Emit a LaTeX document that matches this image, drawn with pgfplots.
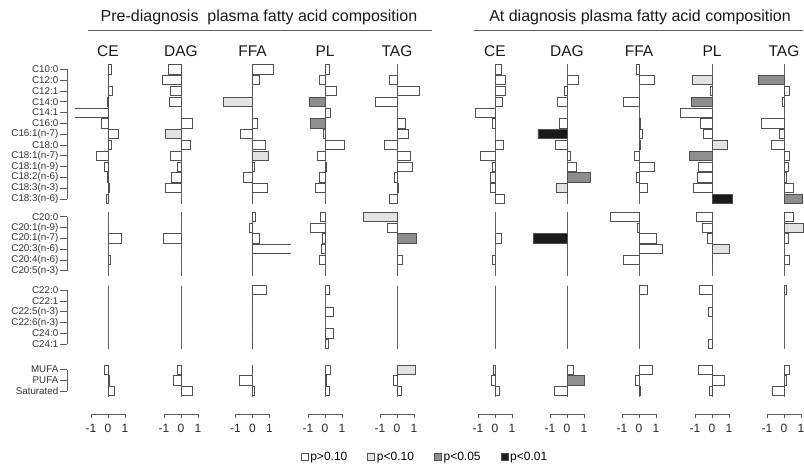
\documentclass[border=0pt]{standalone}
\usepackage{fontspec}
\setmainfont{Liberation Sans}
\usepackage{pgfplots}
\usepackage{pgfplotstable}
\pgfplotsset{compat=1.18}

\definecolor{cA}{HTML}{FFFFFF}
\definecolor{cB}{HTML}{E2E2E2}
\definecolor{cC}{HTML}{8E8E8E}
\definecolor{cD}{HTML}{1A1A1A}
\definecolor{edge}{HTML}{505050}
\definecolor{axisgray}{HTML}{5A5A5A}
\definecolor{zgray}{HTML}{707070}

% columns: pos, then value (v) and p-category (c: 0 p>0.10, 1 p<0.10, 2 p<0.05, 3 p<0.01)
% panels: 1 CE, 2 DAG, 3 FFA, 4 PL, 5 TAG (pre-diagnosis); 6 CE, 7 DAG, 8 FFA, 9 PL, 10 TAG (at diagnosis)
\pgfplotstableread{
pos     v1    c1  v2    c2  v3    c3  v4    c4  v5    c5  v6    c6  v7    c7  v8    c8  v9    c9  v10   c10
0       0.20  0   -0.75 0   1.24  0   0.25  0   0     0   0.37  0   0     0   -0.14 0   0     0   0     0
-1      0.02  0   -1.12 0   0.40  0   -0.32 0   -0.43 0   0.60  0   0.65  0   0.90  0   -1.16 1   -1.53 2
-2      0.24  0   -0.65 0   0     0   0.65  0   1.31  0   0.59  0   -0.14 0   0     0   -0.10 0   0.31  0
-3      -0.05 0   -0.69 0   -1.74 1   -0.95 2   -1.29 0   0.41  0   -0.59 0   -0.95 0   -1.20 2   -0.12 0
-4      -2.50 0   0     0   0     0   0.30  0   0     0   -1.14 0   0     0   0     0   -1.85 0   0     0
-5      -0.39 0   0.69  0   0.26  0   -0.87 2   0.49  0   -0.16 0   -0.45 0   0.05  0   -0.67 0   -1.31 0
-6      0.63  0   -0.94 1   -0.72 0   -0.12 0   0.66  0   0     0   -1.71 3   0.20  0   -0.49 0   -0.29 0
-7      0.17  0   0.57  0   0.77  0   1.15  0   -0.76 0   0.47  0   -0.71 0   0.10  0   0.90  1   -0.73 0
-8      -0.68 0   -0.63 0   0.94  1   -0.47 0   0.78  0   -0.84 0   0.18  0   -0.25 0   -1.33 2   0.31  0
-9      -0.23 0   -0.20 0   0.10  0   0.05  0   0.92  0   -0.14 0   0.53  0   0.88  0   -0.79 0   0.24  0
-10     -0.05 0   -0.59 0   -0.53 0   -0.34 0   -0.14 0   -0.27 0   1.35  2   -0.15 0   -0.86 0   0.12  0
-11     0.08  0   -0.92 0   0.90  0   -0.55 0   0.05  0   -0.27 0   -0.63 1   0.47  0   -1.12 0   0.55  0
-12     -0.10 0   0     0   0     0   0     0   -0.45 0   0.57  0   0     0   0     0   1.19  3   1.10  2
-13.65  0     0   0     0   0.18  0   -0.25 0   -1.96 1   0     0   0     0   -1.68 0   -0.94 0   0.55  0
-14.65  0     0   0     0   -0.20 0   -0.84 0   -0.59 0   0     0   0     0   -0.12 0   -0.59 0   1.14  1
-15.65  0.78  0   -1.04 0   0.40  0   -0.15 0   1.12  2   0.37  0   -1.96 3   1.02  0   -0.29 0   0.24  0
-16.65  0     0   0     0   3.00  0   -0.20 0   0     0   0     0   0     0   1.35  0   1.00  1   0     0
-17.65  0.15  0   0     0   0     0   -0.31 0   0.33  0   -0.14 0   0     0   -0.92 0   0.02  0   0.31  0
-18.65  0     0   0     0   0     0   0     0   0     0   0     0   0     0   0     0   0     0   0     0
-20.45  0     0   0     0   0.80  0   0.25  0   0     0   0     0   0     0   0.49  0   -0.73 0   0.16  0
-21.45  0     0   0     0   0     0   0     0   0     0   0     0   0     0   0     0   0     0   0     0
-22.45  0     0   0     0   0     0   0.52  0   0     0   0     0   0     0   0     0   -0.22 0   0     0
-23.45  0     0   0     0   0     0   0     0   0     0   0     0   0     0   0     0   0     0   0     0
-24.45  0     0   0     0   0     0   0.48  0   0     0   0     0   0     0   0     0   0     0   0     0
-25.45  0     0   0     0   0     0   0.18  0   0     0   0     0   0     0   0     0   -0.24 0   0     0
-27.8   -0.20 0   -0.20 0   0     0   0.33  0   1.08  1   -0.10 0   0.39  0   0.77  0   -0.82 0   0.31  0
-28.8   0.10  0   -0.43 0   -0.78 0   0.05  0   -0.20 0   -0.24 0   1.02  2   -0.24 0   0.72  0   0.16  0
-29.8   0.35  0   0.65  0   0.08  0   0.23  0   0.25  0   0.24  0   -0.73 0   0.05  0   -0.16 0   -0.70 0
}\data

\pgfplotsset{
  panel/.style={
    x=17pt, y=10.8pt, ymin=-31.92, ymax=0.6,
    clip mode=individual,
    axis y line=none, axis x line*=bottom,
    x axis line style={draw=none},
    xtick={-1,0,1}, xticklabels={-1,0,1},
    tick align=outside, major tick length=4pt,
    xtick style={draw=axisgray, line width=0.8pt},
    xticklabel style={font=\fontsize{12}{13}\selectfont, text=black!85, yshift=-3pt},
  },
  bb/.style={xbar, bar width=0.86, bar shift=0pt, draw=edge, line width=0.7pt},
}
\tikzset{zl/.style={draw=zgray, line width=0.9pt}}

\newcommand\panel[5]{%
\pgfmathsetmacro\panelx{#2+(#3)*17}%
\begin{axis}[panel, xmin=#3, xmax=#4,
  at={(\panelx pt,-62.82pt)}, anchor=north west]
  \draw[zl] (axis cs:0,0.45) -- (axis cs:0,-12.45);
  \draw[zl] (axis cs:0,-13.25) -- (axis cs:0,-19.1);
  \draw[zl] (axis cs:0,-20.05) -- (axis cs:0,-25.9);
  \draw[zl] (axis cs:0,-27.35) -- (axis cs:0,-30.3);
  \addplot[bb, fill=cA] table[x=v#1, y=pos, restrict expr to domain={\thisrow{c#1}}{-0.5:0.5}] {\data};
  \addplot[bb, fill=cB] table[x=v#1, y=pos, restrict expr to domain={\thisrow{c#1}}{0.5:1.5}] {\data};
  \addplot[bb, fill=cC] table[x=v#1, y=pos, restrict expr to domain={\thisrow{c#1}}{1.5:2.5}] {\data};
  \addplot[bb, fill=cD] table[x=v#1, y=pos, restrict expr to domain={\thisrow{c#1}}{2.5:3.5}] {\data};
  \draw[axisgray, line width=0.8pt] (axis cs:-1,-31.92) -- (axis cs:1,-31.92);
\end{axis}
\node[font=\fontsize{15.5}{16}\selectfont, text=black!90] at (#2pt,-51pt) {#5};
}

\begin{document}
\begin{tikzpicture}
\useasboundingbox (0pt,0pt) rectangle (804pt,-464pt);

% group titles
\node[font=\fontsize{16}{17}\selectfont, text=black!90] at (259pt,-17pt) {Pre-diagnosis\ \ plasma fatty acid composition};
\node[font=\fontsize{16}{17}\selectfont, text=black!90] at (640pt,-17pt) {At diagnosis plasma fatty acid composition};
\draw[axisgray, line width=1pt] (88pt,-30pt) -- (432pt,-30pt);
\draw[axisgray, line width=1pt] (474pt,-30pt) -- (803pt,-30pt);

% fatty acid labels
\begin{axis}[
  at={(67pt,-62.82pt)}, anchor=north west,
  x=10pt, y=10.8pt, xmin=0, xmax=1, ymin=-31.92, ymax=0.6,
  axis x line=none, axis y line*=left, y axis line style={draw=none},
  ytick={0,-1,-2,-3,-4,-5,-6,-7,-8,-9,-10,-11,-12,-13.65,-14.65,-15.65,-16.65,-17.65,-18.65,-20.45,-21.45,-22.45,-23.45,-24.45,-25.45,-27.8,-28.8,-29.8},
  yticklabels={C10:0,C12:0,C12:1,C14:0,C14:1,C16:0,C16:1(n-7),C18:0,C18:1(n-7),C18:1(n-9),C18:2(n-6),C18:3(n-3),C18:3(n-6),C20:0,C20:1(n-9),C20:1(n-7),C20:3(n-6),C20:4(n-6),C20:5(n-3),C22:0,C22:1,C22:5(n-3),C22:6(n-3),C24:0,C24:1,MUFA,PUFA,Saturated},
  tick align=outside, major tick length=7pt,
  ytick style={draw=axisgray, line width=0.8pt},
  yticklabel style={font=\fontsize{9.8}{10}\selectfont, text=black!80, inner sep=1.5pt},
]
\draw[axisgray, line width=0.8pt] (axis cs:0,0) -- (axis cs:0,-12);
\draw[axisgray, line width=0.8pt] (axis cs:0,-13.65) -- (axis cs:0,-18.65);
\draw[axisgray, line width=0.8pt] (axis cs:0,-20.45) -- (axis cs:0,-25.45);
\draw[axisgray, line width=0.8pt] (axis cs:0,-27.8) -- (axis cs:0,-29.8);
\end{axis}

\panel{1}{108}{-1.94}{2.1}{CE}
\panel{2}{181}{-2.1}{2.1}{DAG}
\panel{3}{252.5}{-2.1}{2.26}{FFA}
\panel{4}{325}{-2.1}{2.1}{PL}
\panel{5}{397}{-2.1}{2.1}{TAG}
\panel{6}{495}{-2.1}{2.1}{CE}
\panel{7}{567}{-2.1}{2.1}{DAG}
\panel{8}{639}{-2.1}{2.1}{FFA}
\panel{9}{712}{-2.1}{2.1}{PL}
\panel{10}{784}{-2.1}{2.1}{TAG}

% legend
\begin{axis}[at={(425pt,-457pt)}, anchor=center, hide axis,
  xmin=0, xmax=1, ymin=0, ymax=1, width=1pt, height=1pt, scale only axis,
  legend columns=4,
  legend style={draw=none, fill=none, at={(0.5,0.5)}, anchor=center,
    font=\fontsize{12}{13}\selectfont, inner sep=0pt,
    /tikz/every even column/.append style={column sep=18pt}},
  legend image code/.code={\draw[#1] (0pt,-3.5pt) rectangle (7pt,3.5pt);}]
\addlegendimage{fill=cA, draw=edge, line width=0.6pt}\addlegendentry{p>0.10}
\addlegendimage{fill=cB, draw=edge, line width=0.6pt}\addlegendentry{p<0.10}
\addlegendimage{fill=cC, draw=edge, line width=0.6pt}\addlegendentry{p<0.05}
\addlegendimage{fill=cD, draw=edge, line width=0.6pt}\addlegendentry{p<0.01}
\end{axis}
\end{tikzpicture}
\end{document}
